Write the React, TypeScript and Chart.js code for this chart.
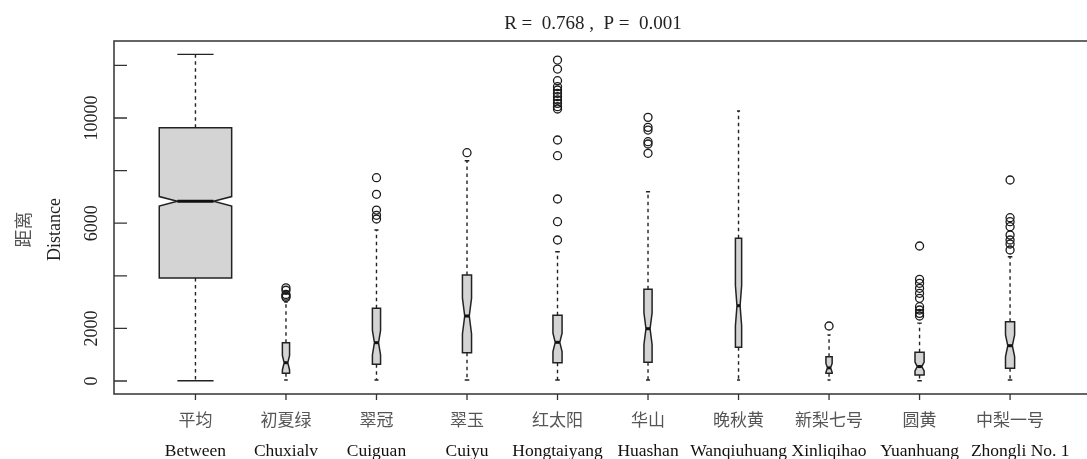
import React, { useEffect, useRef } from "react";
import { Chart, registerables } from "chart.js";

Chart.register(...registerables);

// ---------- data ----------
const categoriesZh = ["平均", "初夏绿", "翠冠", "翠玉", "红太阳", "华山", "晚秋黄", "新梨七号", "圆黄", "中梨一号"];
const categoriesEn = ["Between", "Chuxialv", "Cuiguan", "Cuiyu", "Hongtaiyang", "Huashan", "Wanqiuhuang", "Xinliqihao", "Yuanhuang", "Zhongli No. 1"];

const whiskerLow = [10, 40, 40, 40, 40, 40, 40, 40, 11, 40];
const quartile1 = [3916, 292, 634, 1077, 696, 709, 1280, 292, 228, 482];
const median = [6832, 696, 1457, 2471, 1471, 1989, 2864, 500, 550, 1343];
const quartile3 = [9631, 1457, 2763, 4030, 2497, 3486, 5425, 924, 1091, 2256];
const whiskerHigh = [12421, 3000, 5741, 8376, 4917, 7198, 10265, 1749, 2200, 4727];
const notchLow = [6652, 420, 990, 1790, 1120, 1390, 2100, 330, 380, 930];
const notchHigh = [7012, 972, 1924, 3152, 1822, 2588, 3628, 670, 720, 1756];
const sampleSize = [2838, 28, 36, 45, 45, 36, 21, 21, 45, 45];

const outliers: number[][] = [
  [],
  [3540, 3450, 3290, 3230, 3180],
  [7730, 7100, 6500, 6300, 6160],
  [8680],
  [12204, 11862, 11418, 11190, 11064, 10937, 10810, 10684, 10557, 10430, 10342, 9163, 8566, 6920, 6057, 5361],
  [10025, 9645, 9543, 9099, 9011, 8657],
  [],
  [2091],
  [5133, 3866, 3714, 3524, 3334, 3144, 2826, 2699, 2573, 2471],
  [7642, 6209, 6057, 5867, 5551, 5361, 5209, 4981],
];

const yTickValues = [0, 2000, 4000, 6000, 8000, 10000, 12000];
const yTickLabels = ["0", "2000", "", "6000", "", "10000", ""];
const titleText = "R =  0.768 ,  P =  0.001";
const yTitleZh = "距离";
const yTitleEn = "Distance";

// ---------- drawing ----------
const FONT = '"Liberation Serif", "Noto Sans CJK SC", serif';
const LINE = "#222";
const FILL = "#d4d4d4";

const boxPlugin = {
  id: "notchedBoxes",
  beforeDatasetsDraw(chart: any) {
    const { ctx, scales } = chart;
    const x = scales.x;
    const y = scales.y;
    const nmax = Math.max(...sampleSize);
    ctx.save();
    categoriesEn.forEach((_, i) => {
      const cx = x.getPixelForValue(i + 1);
      const half = x.getPixelForValue(1 + 0.4 * Math.sqrt(sampleSize[i] / nmax)) - x.getPixelForValue(1);
      const py = (v: number) => y.getPixelForValue(v);
      // whiskers
      ctx.strokeStyle = LINE;
      ctx.lineWidth = 1.4;
      ctx.setLineDash([3.5, 3.5]);
      ctx.beginPath();
      ctx.moveTo(cx, py(quartile3[i]));
      ctx.lineTo(cx, py(whiskerHigh[i]));
      ctx.moveTo(cx, py(quartile1[i]));
      ctx.lineTo(cx, py(whiskerLow[i]));
      ctx.stroke();
      ctx.setLineDash([]);
      // staples
      ctx.beginPath();
      ctx.moveTo(cx - half * 0.5, py(whiskerHigh[i]));
      ctx.lineTo(cx + half * 0.5, py(whiskerHigh[i]));
      ctx.moveTo(cx - half * 0.5, py(whiskerLow[i]));
      ctx.lineTo(cx + half * 0.5, py(whiskerLow[i]));
      ctx.stroke();
      // notched box
      const pts: [number, number][] = [
        [cx - half, py(quartile1[i])],
        [cx + half, py(quartile1[i])],
        [cx + half, py(notchLow[i])],
        [cx + half * 0.5, py(median[i])],
        [cx + half, py(notchHigh[i])],
        [cx + half, py(quartile3[i])],
        [cx - half, py(quartile3[i])],
        [cx - half, py(notchHigh[i])],
        [cx - half * 0.5, py(median[i])],
        [cx - half, py(notchLow[i])],
      ];
      ctx.beginPath();
      pts.forEach(([px, pyy], k) => (k === 0 ? ctx.moveTo(px, pyy) : ctx.lineTo(px, pyy)));
      ctx.closePath();
      ctx.fillStyle = FILL;
      ctx.fill();
      ctx.lineWidth = 1.5;
      ctx.strokeStyle = LINE;
      ctx.stroke();
      // median
      ctx.lineWidth = 3;
      ctx.strokeStyle = "#111";
      ctx.beginPath();
      ctx.moveTo(cx - half * 0.5, py(median[i]));
      ctx.lineTo(cx + half * 0.5, py(median[i]));
      ctx.stroke();
    });
    ctx.restore();
  },
  afterDraw(chart: any) {
    const { ctx, chartArea, scales } = chart;
    const x = scales.x;
    const y = scales.y;
    const { left, right, top, bottom } = chartArea;
    ctx.save();
    // frame
    ctx.strokeStyle = "#333";
    ctx.lineWidth = 1.5;
    ctx.beginPath();
    ctx.moveTo(right + 5, top);
    ctx.lineTo(left, top);
    ctx.lineTo(left, bottom);
    ctx.lineTo(right + 5, bottom);
    ctx.stroke();
    // y ticks (inward) and labels
    ctx.lineWidth = 1.3;
    ctx.beginPath();
    yTickValues.forEach((v) => {
      const p = y.getPixelForValue(v);
      ctx.moveTo(left, p);
      ctx.lineTo(left + 13, p);
    });
    ctx.stroke();
    ctx.fillStyle = "#222";
    ctx.font = `18px ${FONT}`;
    ctx.textAlign = "center";
    ctx.textBaseline = "middle";
    yTickValues.forEach((v, k) => {
      if (!yTickLabels[k]) return;
      const p = y.getPixelForValue(v);
      ctx.save();
      ctx.translate(left - 22, p);
      ctx.rotate(-Math.PI / 2);
      ctx.fillText(yTickLabels[k], 0, 0);
      ctx.restore();
    });
    // y axis title
    const yMid = (top + bottom) / 2 + 12;
    ctx.save();
    ctx.translate(left - 89, yMid);
    ctx.rotate(-Math.PI / 2);
    ctx.fillStyle = "#555";
    ctx.font = `18px ${FONT}`;
    ctx.fillText(yTitleZh, 0, 0);
    ctx.restore();
    ctx.save();
    ctx.translate(left - 59, yMid);
    ctx.rotate(-Math.PI / 2);
    ctx.fillStyle = "#222";
    ctx.font = `18px ${FONT}`;
    ctx.fillText(yTitleEn, 0, 0);
    ctx.restore();
    // x ticks (outward) and labels
    ctx.beginPath();
    categoriesEn.forEach((_, i) => {
      const p = x.getPixelForValue(i + 1);
      ctx.moveTo(p, bottom);
      ctx.lineTo(p, bottom + 6);
    });
    ctx.stroke();
    let prevRight = -Infinity;
    const last = categoriesEn.length - 1;
    categoriesEn.forEach((lab, i) => {
      const p = x.getPixelForValue(i + 1);
      ctx.fillStyle = "#555";
      ctx.font = `17px ${FONT}`;
      ctx.fillText(categoriesZh[i], p, bottom + 28);
      ctx.fillStyle = "#111";
      ctx.font = `17.5px ${FONT}`;
      const w = ctx.measureText(lab).width;
      let px = p;
      // the last English label sits shifted right, clear of its neighbour
      if (i === last) px = Math.max(p, prevRight + 12 + w / 2);
      ctx.fillText(lab, px, bottom + 57);
      prevRight = px + w / 2;
    });
    // title
    ctx.fillStyle = "#222";
    ctx.font = `19px ${FONT}`;
    ctx.fillText(titleText, left + 479, top - 17);
    ctx.restore();
  },
};

export default function App() {
  const ref = useRef<HTMLCanvasElement | null>(null);
  useEffect(() => {
    if (!ref.current) return;
    const points = outliers.flatMap((arr, i) => arr.map((v) => ({ x: i + 1, y: v })));
    const chart = new Chart(ref.current, {
      type: "scatter",
      data: {
        datasets: [
          {
            label: "outliers",
            data: points,
            pointStyle: "circle",
            pointRadius: 4,
            pointBorderWidth: 1.3,
            borderColor: "#1a1a1a",
            backgroundColor: "rgba(0,0,0,0)",
          },
        ],
      },
      options: {
        responsive: false,
        animation: false,
        devicePixelRatio: 1,
        layout: { autoPadding: false, padding: { left: 114, top: 41, right: 0, bottom: 65 } },
        scales: {
          x: { type: "linear", min: 0.1, max: 10.85, display: false },
          y: { type: "linear", min: -494, max: 12928, display: false },
        },
        plugins: { legend: { display: false }, tooltip: { enabled: false }, title: { display: false } },
      },
      plugins: [boxPlugin],
    });
    return () => chart.destroy();
  }, []);
  return (
    <div style={{ position: "fixed", left: 0, top: 0, width: 1087, height: 459, background: "#fff" }}>
      <canvas ref={ref} width={1087} height={459} style={{ display: "block" }} />
    </div>
  );
}
